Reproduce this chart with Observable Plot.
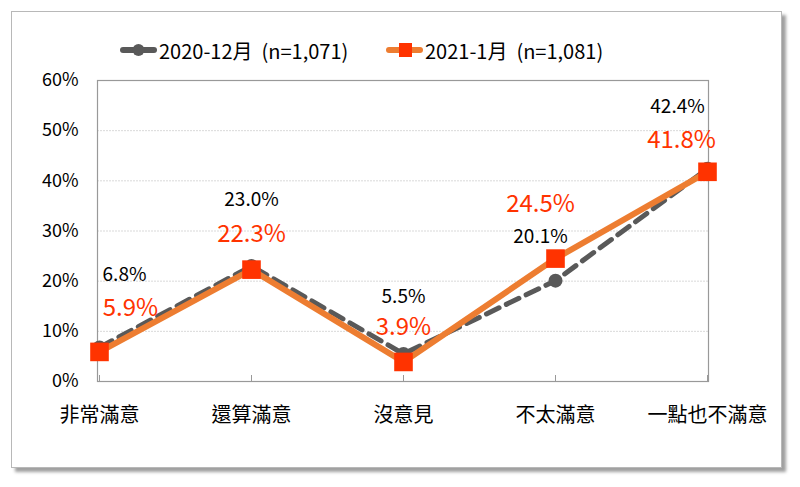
<!DOCTYPE html>
<html>
<head>
<meta charset="utf-8">
<script src="https://cdn.jsdelivr.net/npm/d3@7"></script>
<script src="https://cdn.jsdelivr.net/npm/@observablehq/plot@0.6"></script>
<style>
  html, body { margin: 0; padding: 0; background: #fff; }
  #wrap { position: relative; width: 800px; height: 487px; font-family: "Noto Sans CJK TC", "Noto Sans", sans-serif; }
  #frame { position: absolute; left: 11px; top: 11px; width: 769px; height: 455px; border: 1.5px solid #b8b8b8; box-shadow: 4px 4px 3px #a0a0a0; background: #fff; }
  #chart { position: absolute; left: 0; top: 0; }
  #legend { position: absolute; left: 0; top: 36px; width: 800px; height: 28px; font-size: 20px; color: #000; }
  .item { position: absolute; top: 0; display: flex; align-items: center; height: 28px; white-space: pre; }
  .item svg { margin-right: 2px; }
</style>
</head>
<body>
<div id="wrap">
  <div id="frame"></div>
  <div id="chart"></div>
  <div id="legend"></div>
</div>
<script>
const categories = ["非常滿意", "還算滿意", "沒意見", "不太滿意", "一點也不滿意"];
const seriesNames = ["2020-12月  (n=1,071)", "2021-1月  (n=1,081)"];
const dec2020 = [6.8, 23.0, 5.5, 20.1, 42.4];
const jan2021 = [5.9, 22.3, 3.9, 24.5, 41.8];
const yTicks = [0, 10, 20, 30, 40, 50, 60];
const gridTicks = [10, 20, 30, 40, 50];

// label placement offsets (styling only)
const grayDx = [25, 0, 0, -15, -30];
const grayDy = [-72, -66, -57, -44, -62];
const orangeDx = [31, 0, 0, -15, -26];
const orangeDy = [-44, -35, -35, -54, -31];

const GRAY = "#595959", ORANGE_LINE = "#ED7D31", ORANGE = "#FF3300";
const FONT = "'Noto Sans CJK TC', 'Noto Sans', sans-serif";

const d1 = categories.map((c, i) => ({cat: c, v: dec2020[i], i}));
const d2 = categories.map((c, i) => ({cat: c, v: jan2021[i], i}));

const labelMarks = [];
d1.forEach((d, i) => {
  labelMarks.push(Plot.text([d], {x: "cat", y: "v", text: x => x.v.toFixed(1) + "%", dx: grayDx[i], dy: grayDy[i], fill: "#000", fontSize: 19}));
});
d2.forEach((d, i) => {
  labelMarks.push(Plot.text([d], {x: "cat", y: "v", text: x => x.v.toFixed(1) + "%", dx: orangeDx[i], dy: orangeDy[i], fill: ORANGE, fontSize: 24}));
});

const plot = Plot.plot({
  width: 800,
  height: 487,
  marginLeft: 97,
  marginRight: 92,
  marginTop: 80,
  marginBottom: 106,
  style: {background: "transparent", fontFamily: FONT, color: "#000"},
  x: {type: "point", domain: categories, padding: 0, label: null},
  y: {domain: [0, 60], label: null},
  marks: [
    Plot.gridY(gridTicks, {stroke: "#d9d9d9", strokeOpacity: 1, strokeDasharray: "2,1"}),
    Plot.frame({stroke: "#999", strokeWidth: 1.2}),
    Plot.axisY(yTicks, {tickSize: 0, tickPadding: 19, fontSize: 18, label: null, tickFormat: d => d + "%"}),
    Plot.axisX({tickSize: -6, tickFormat: () => "", label: null, stroke: "#999"}),
    Plot.axisX({tickSize: 0, tickPadding: 26, fontSize: 20, label: null}),
    Plot.line(d1, {x: "cat", y: "v", stroke: GRAY, strokeWidth: 5, strokeDasharray: "14,8"}),
    Plot.dot(d1, {x: "cat", y: "v", r: 7, fill: GRAY}),
    Plot.line(d2, {x: "cat", y: "v", stroke: ORANGE_LINE, strokeWidth: 6}),
    Plot.dot(d2, {x: "cat", y: "v", symbol: "square", r: 10.5, fill: ORANGE}),
    ...labelMarks
  ]
});
document.getElementById("chart").appendChild(plot);

// legend
const legend = document.getElementById("legend");
const items = [
  {left: 120, name: seriesNames[0], line: GRAY, marker: "circle"},
  {left: 386, name: seriesNames[1], line: ORANGE_LINE, marker: "square"}
];
items.forEach(it => {
  const div = document.createElement("div");
  div.className = "item";
  div.style.left = it.left + "px";
  const ns = "http://www.w3.org/2000/svg";
  const svg = document.createElementNS(ns, "svg");
  svg.setAttribute("width", 37); svg.setAttribute("height", 20);
  const ln = document.createElementNS(ns, "line");
  ln.setAttribute("x1", 3); ln.setAttribute("x2", 34); ln.setAttribute("y1", 10); ln.setAttribute("y2", 10);
  ln.setAttribute("stroke", it.line); ln.setAttribute("stroke-width", 6); ln.setAttribute("stroke-linecap", "round");
  svg.appendChild(ln);
  if (it.marker === "circle") {
    const c = document.createElementNS(ns, "circle");
    c.setAttribute("cx", 18.5); c.setAttribute("cy", 10); c.setAttribute("r", 6); c.setAttribute("fill", it.line);
    svg.appendChild(c);
  } else {
    const r = document.createElementNS(ns, "rect");
    r.setAttribute("x", 13); r.setAttribute("y", 3); r.setAttribute("width", 13); r.setAttribute("height", 14); r.setAttribute("fill", ORANGE);
    svg.appendChild(r);
  }
  div.appendChild(svg);
  const span = document.createElement("span");
  span.textContent = it.name;
  div.appendChild(span);
  legend.appendChild(div);
});
</script>
</body>
</html>
